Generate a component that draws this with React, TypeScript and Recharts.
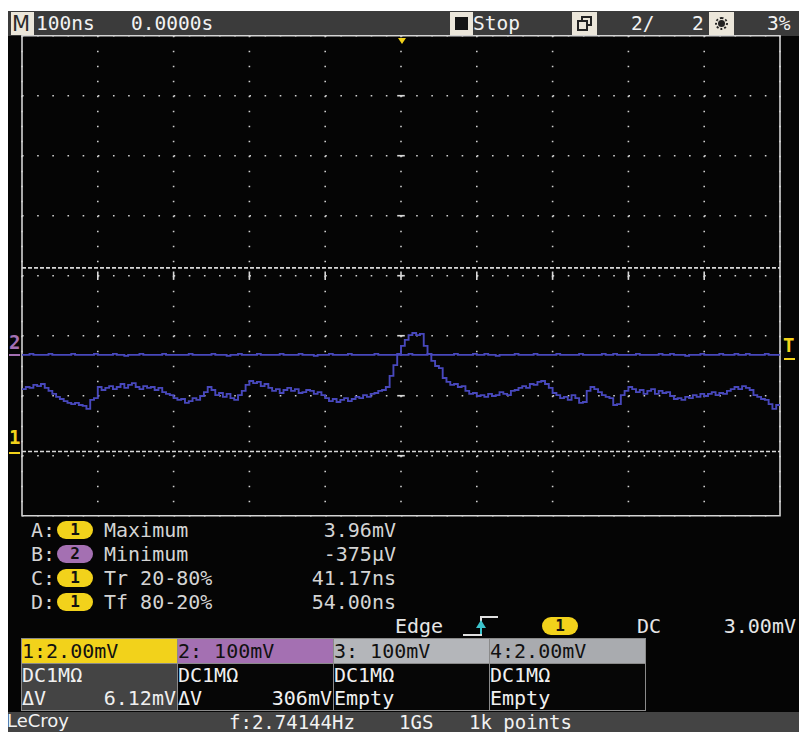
import React from 'react';
import { LineChart, Line, XAxis, YAxis, CartesianGrid, ReferenceLine, ReferenceArea } from 'recharts';

// Sample times (ns), 100 ns/div, 10 divisions
const TIME_NS = [
  -500, -495, -490, -485, -480, -475, -470, -465, -460, -455,
  -450, -445, -440, -435, -430, -425, -420, -415, -410, -405,
  -400, -395, -390, -385, -380, -375, -370, -365, -360, -355,
  -350, -345, -340, -335, -330, -325, -320, -315, -310, -305,
  -300, -295, -290, -285, -280, -275, -270, -265, -260, -255,
  -250, -245, -240, -235, -230, -225, -220, -215, -210, -205,
  -200, -195, -190, -185, -180, -175, -170, -165, -160, -155,
  -150, -145, -140, -135, -130, -125, -120, -115, -110, -105,
  -100, -95, -90, -85, -80, -75, -70, -65, -60, -55,
  -50, -45, -40, -35, -30, -25, -20, -15, -10, -5,
  0, 5, 10, 15, 20, 25, 30, 35, 40, 45,
  50, 55, 60, 65, 70, 75, 80, 85, 90, 95,
  100, 105, 110, 115, 120, 125, 130, 135, 140, 145,
  150, 155, 160, 165, 170, 175, 180, 185, 190, 195,
  200, 205, 210, 215, 220, 225, 230, 235, 240, 245,
  250, 255, 260, 265, 270, 275, 280, 285, 290, 295,
  300, 305, 310, 315, 320, 325, 330, 335, 340, 345,
  350, 355, 360, 365, 370, 375, 380, 385, 390, 395,
  400, 405, 410, 415, 420, 425, 430, 435, 440, 445,
  450, 455, 460, 465, 470, 475, 480, 485, 490, 495,
  500,
];

// Channel 1 (mV), 2.00 mV/div
const CH1_MV = [
  2.13, 2.20, 2.17, 2.27, 2.23, 2.30, 2.17, 2.07, 1.97, 1.87,
  1.80, 1.73, 1.67, 1.63, 1.67, 1.60, 1.57, 1.47, 1.77, 1.83,
  2.20, 2.10, 2.17, 2.23, 2.13, 2.20, 2.30, 2.17, 2.27, 2.33,
  2.20, 2.13, 2.23, 2.17, 2.20, 2.10, 2.17, 2.03, 1.97, 1.93,
  1.83, 1.77, 1.80, 1.67, 1.73, 1.83, 1.77, 1.90, 2.03, 2.20,
  2.10, 1.93, 2.00, 1.87, 1.97, 1.83, 1.77, 1.93, 2.07, 2.27,
  2.40, 2.33, 2.37, 2.23, 2.30, 2.17, 2.07, 2.13, 2.00, 2.10,
  2.17, 2.07, 2.13, 2.00, 2.03, 2.10, 2.07, 1.97, 2.03, 1.93,
  1.83, 1.73, 1.80, 1.70, 1.77, 1.83, 1.73, 1.80, 1.87, 1.83,
  1.93, 1.87, 1.97, 2.00, 2.07, 2.10, 2.20, 2.57, 2.93, 3.27,
  3.57, 3.77, 3.93, 4.00, 3.93, 3.97, 3.57, 3.30, 3.07, 2.90,
  2.83, 2.50, 2.37, 2.27, 2.30, 2.20, 2.23, 2.07, 1.97, 2.00,
  1.90, 1.93, 1.87, 1.97, 1.90, 1.93, 2.03, 1.97, 1.93, 2.07,
  2.10, 2.17, 2.23, 2.17, 2.30, 2.27, 2.37, 2.40, 2.30, 2.17,
  2.00, 1.93, 1.83, 1.87, 1.77, 1.93, 1.83, 1.67, 1.70, 2.07,
  2.20, 2.13, 2.03, 1.93, 1.87, 1.83, 1.60, 1.63, 1.93, 2.07,
  2.20, 2.13, 2.03, 2.10, 1.97, 2.07, 2.13, 1.97, 2.07, 2.00,
  2.03, 1.90, 1.80, 1.83, 1.77, 1.87, 1.83, 1.93, 1.87, 1.97,
  1.90, 1.97, 2.03, 1.93, 2.00, 1.97, 2.07, 2.13, 2.20, 2.13,
  2.23, 2.17, 2.10, 1.93, 1.87, 1.80, 1.77, 1.63, 1.47, 1.60,
  1.57,
];

// Channel 2 (mV), 100 mV/div
const CH2_MV = [
  0, 0, 1.7, 0, 0, 0, 0, 1.7, 0, 0,
  0, 0, 0, 1.7, 0, 0, 0, 0, 0, 1.7,
  0, 0, 0, 0, 1.7, 0, 0, -1.7, 0, 0,
  0, 1.7, 0, 0, 0, 0, 0, 1.7, 0, 0,
  0, 0, 0, 0, 1.7, 0, 0, 0, 0, 0,
  1.7, 0, 0, 0, -1.7, 0, 0, 1.7, 0, 0,
  0, 0, 1.7, 0, 0, 0, 0, 0, 1.7, 0,
  0, 0, 0, 1.7, 0, 0, 0, -1.7, 0, 0,
  0, 1.7, 0, 0, 0, 0, 1.7, 0, 0, 0,
  0, 0, 0, 1.7, 0, 0, 0, 0, 0, 1.7,
  0, 0, 1.7, 0, 0, 0, 0, 1.7, 0, 0,
  0, 0, 0, 0, 1.7, 0, 0, 0, 0, 1.7,
  0, 0, 1.7, 0, 0, -1.7, 0, 0, 0, 0,
  1.7, 0, 0, 0, 0, 1.7, 0, 0, 0, 0,
  0, 1.7, 0, 0, 0, 0, 0, 1.7, 0, 0,
  0, 0, 0, 1.7, 0, 0, 1.7, 0, 0, 0,
  0, 0, 1.7, 0, 0, 0, 0, 0, 1.7, 0,
  0, 1.7, 0, 0, 0, -1.7, 0, 0, 0, 1.7,
  0, 0, 0, 0, 1.7, 0, 0, 0, 1.7, 0,
  0, 1.7, 0, 0, 0, 0, 1.7, 0, 0, 0,
  0,
];

const X_DIV_TICKS = [-500, -400, -300, -200, -100, 0, 100, 200, 300, 400, 500];
const Y_DIV_TICKS = [-4, -3, -2, -1, 0, 1, 2, 3, 4];
const CH1_DOMAIN = [-2.09, 13.91];
const CH2_DOMAIN = [-268, 532];
const CURSOR_MV = [0.05, 6.17];

const MEASUREMENTS = [
  { slot: 'A:', ch: '1', name: 'Maximum', value: '3.96mV' },
  { slot: 'B:', ch: '2', name: 'Minimum', value: '-375µV' },
  { slot: 'C:', ch: '1', name: 'Tr 20-80%', value: '41.17ns' },
  { slot: 'D:', ch: '1', name: 'Tf 80-20%', value: '54.00ns' },
];

const CHANNELS = [
  { head: '1:2.00mV', l1: 'DC1MΩ', l2: 'ΔV', v2: '6.12mV', hb: '#f2d21b', bb: '#444444' },
  { head: '2: 100mV', l1: 'DC1MΩ', l2: 'ΔV', v2: '306mV', hb: '#a470b2', bb: '#060606' },
  { head: '3: 100mV', l1: 'DC1MΩ', l2: 'Empty', v2: '', hb: '#b4b6ba', bb: '#060606' },
  { head: '4:2.00mV', l1: 'DC1MΩ', l2: 'Empty', v2: '', hb: '#a9abaf', bb: '#060606' },
];

const MONO = '"DejaVu Sans Mono", monospace';
const YELLOW = '#f2d21b';
const PURPLE = '#a470b2';
const TRACE = '#4848bc';
const LIGHT = '#e6e6e6';

const rows = TIME_NS.map((t, i) => ({ t, ch1: CH1_MV[i], ch2: CH2_MV[i] }));

const Txt = (p: any) => (
  <div
    style={{
      position: 'absolute',
      left: p.x,
      top: p.y,
      width: p.w,
      textAlign: p.align,
      fontSize: p.s ?? 20,
      lineHeight: 1,
      color: p.c ?? LIGHT,
      fontFamily: p.f ?? MONO,
      whiteSpace: 'pre',
      fontWeight: p.b ? 'bold' : 'normal',
    }}
  >
    {p.children}
  </div>
);

const Pill = (p: any) => (
  <div
    style={{
      position: 'absolute',
      left: p.x,
      top: p.y,
      width: 36,
      height: 18,
      borderRadius: 9,
      background: p.bg,
      color: '#111',
      fontFamily: MONO,
      fontSize: 16,
      fontWeight: 'bold',
      lineHeight: '18px',
      textAlign: 'center',
    }}
  >
    {p.children}
  </div>
);

const Box = (p: any) => (
  <div
    style={{
      position: 'absolute',
      left: p.x,
      top: p.y,
      width: p.w,
      height: p.h,
      background: p.bg,
      border: p.border,
      boxSizing: 'border-box',
    }}
  >
    {p.children}
  </div>
);

export default function App() {
  const centerTicksX = X_DIV_TICKS.slice(1, -1);
  const centerTicksY = Y_DIV_TICKS.slice(1, -1);
  return (
    <div style={{ position: 'absolute', left: 0, top: 0, width: 799, height: 732, background: '#ffffff', overflow: 'hidden' }}>
      {/* screen */}
      <Box x={8} y={11} w={791} h={721} bg="#050505" />
      {/* top bar */}
      <Box x={8} y={11} w={791} h={25} bg="#3b3b3b" />
      <Box x={11} y={12} w={23} h={23} bg="#ebe6da" />
      <Txt x={12} y={14} s={21} c="#2a2a2a" f='"DejaVu Sans", sans-serif'>M</Txt>
      <Txt x={36} y={14} s={19.5} c="#f2f2f2">100ns</Txt>
      <Txt x={131} y={14} s={19.5} c="#f2f2f2">0.0000s</Txt>
      <Box x={450} y={12} w={23} h={23} bg="#ebe6da" />
      <Box x={455} y={17} w={13} h={13} bg="#151515" />
      <Txt x={473} y={14} s={19.5} c="#f2f2f2">Stop</Txt>
      <Box x={572} y={12} w={25} h={23} bg="#ebe6da" />
      <Box x={581} y={16} w={11} h={10} bg="transparent" border="2px solid #222" />
      <Box x={577} y={20} w={11} h={11} bg="#ebe6da" border="2px solid #222" />
      <Txt x={631} y={14} s={19.5} c="#f2f2f2">2/</Txt>
      <Txt x={692} y={14} s={19.5} c="#f2f2f2">2</Txt>
      <Box x={709} y={12} w={25} h={23} bg="#ebe6da" />
      <div style={{ position: 'absolute', left: 715, top: 17, width: 13, height: 13, borderRadius: 7, border: '2px dotted #222', boxSizing: 'border-box' }} />
      <div style={{ position: 'absolute', left: 718, top: 20, width: 7, height: 7, borderRadius: 4, background: '#222' }} />
      <Txt x={767} y={14} s={19.5} c="#f2f2f2">3%</Txt>

      {/* waveform chart */}
      <div style={{ position: 'absolute', left: 0, top: 0 }}>
        <LineChart width={799} height={732} data={rows} margin={{ top: 35.7, right: 19, bottom: 216.3, left: 22 }}>
          <XAxis dataKey="t" type="number" domain={[-500, 500]} ticks={X_DIV_TICKS} hide allowDataOverflow />
          <YAxis yAxisId="div" type="number" domain={[-4, 4]} ticks={Y_DIV_TICKS} hide allowDataOverflow />
          <YAxis yAxisId="ch1" type="number" domain={CH1_DOMAIN} hide allowDataOverflow />
          <YAxis yAxisId="ch2" type="number" domain={CH2_DOMAIN} hide allowDataOverflow />
          <CartesianGrid yAxisId="div" horizontal={false} stroke="#cfcfcf" strokeWidth={1.6} strokeDasharray="1.6 13.4" />
          <CartesianGrid yAxisId="div" vertical={false} stroke="#cfcfcf" strokeWidth={1.6} strokeDasharray="1.6 13.56" />
          {centerTicksX.map((t) => (
            <ReferenceLine
              key={'cx' + t}
              yAxisId="div"
              segment={[{ x: t, y: -0.07 }, { x: t, y: 0.07 }]}
              stroke="#d8d8d8"
              strokeWidth={1.6}
            />
          ))}
          {centerTicksY.map((d) => (
            <ReferenceLine
              key={'cy' + d}
              yAxisId="div"
              segment={[{ x: -5, y: d }, { x: 5, y: d }]}
              stroke="#d8d8d8"
              strokeWidth={1.6}
            />
          ))}
          {CURSOR_MV.map((v) => (
            <ReferenceLine key={'cur' + v} yAxisId="ch1" y={v} stroke="#d8d8d8" strokeWidth={1.6} strokeDasharray="4 2" />
          ))}
          <ReferenceArea yAxisId="div" x1={-500} x2={500} y1={-4} y2={4} fill="none" fillOpacity={0} stroke="#d4d4d4" strokeWidth={1.6} />
          <Line yAxisId="ch2" dataKey="ch2" type="stepAfter" stroke={TRACE} strokeWidth={1.9} dot={false} isAnimationActive={false} />
          <Line yAxisId="ch1" dataKey="ch1" type="stepAfter" stroke={TRACE} strokeWidth={1.9} dot={false} isAnimationActive={false} />
        </LineChart>
      </div>

      {/* markers */}
      <div style={{ position: 'absolute', left: 398, top: 38, width: 0, height: 0, borderLeft: '4px solid transparent', borderRight: '4px solid transparent', borderTop: '6px solid ' + YELLOW }} />
      <Txt x={9} y={333} s={19} c={PURPLE} b>2</Txt>
      <Box x={9} y={354} w={11} h={2} bg={PURPLE} />
      <Txt x={9} y={428} s={19} c={YELLOW} b>1</Txt>
      <Box x={9} y={452} w={11} h={2} bg={YELLOW} />
      <Txt x={783} y={336} s={19} c={YELLOW} b>T</Txt>
      <Box x={784} y={358} w={11} h={2} bg={YELLOW} />

      {/* measurements */}
      {MEASUREMENTS.map((m, i) => {
        const top = 520 + i * 24;
        return (
          <React.Fragment key={m.slot}>
            <Txt x={31} y={top} s={20} c="#d4d4d4">{m.slot}</Txt>
            <Pill x={57} y={top + 1} bg={m.ch === '1' ? YELLOW : PURPLE}>{m.ch}</Pill>
            <Txt x={104} y={top} s={20} c="#d4d4d4">{m.name}</Txt>
            <Txt x={236} y={top} w={160} align="right" s={20} c="#d4d4d4">{m.value}</Txt>
          </React.Fragment>
        );
      })}

      {/* trigger row */}
      <Txt x={395} y={616} s={20} c={LIGHT}>Edge</Txt>
      <Box x={463} y={634} w={18} h={2} bg="#e0e0e0" />
      <Box x={480} y={617} w={2} h={19} bg="#e0e0e0" />
      <Box x={480} y={616} w={18} h={2} bg="#e0e0e0" />
      <div style={{ position: 'absolute', left: 476, top: 620, width: 0, height: 0, borderLeft: '5px solid transparent', borderRight: '5px solid transparent', borderBottom: '8px solid #3cc4cc' }} />
      <Box x={480} y={627} w={2} h={7} bg="#3cc4cc" />
      <Pill x={542} y={617} bg={YELLOW}>1</Pill>
      <Txt x={637} y={616} s={20} c={LIGHT}>DC</Txt>
      <Txt x={676} y={616} w={120} align="right" s={20} c={LIGHT}>3.00mV</Txt>

      {/* channel boxes */}
      {CHANNELS.map((ch, i) => {
        const x = 21 + i * 156;
        return (
          <React.Fragment key={ch.head}>
            <Box x={x} y={638} w={157} h={26} bg={ch.hb} border="1px solid #8a8a8a" />
            <Box x={x} y={663} w={157} h={48} bg={ch.bb} border="1px solid #8a8a8a" />
            <Txt x={x + 1} y={641} s={20} c="#111">{ch.head}</Txt>
            <Txt x={x + 1} y={665} s={20} c="#f0f0f0">{ch.l1}</Txt>
            <Txt x={x + 1} y={688} s={20} c="#f0f0f0">{ch.l2}</Txt>
            {ch.v2 ? (
              <Txt x={x + 36} y={688} w={119} align="right" s={20} c="#f0f0f0">{ch.v2}</Txt>
            ) : null}
          </React.Fragment>
        );
      })}

      {/* bottom bar */}
      <Box x={8} y={712} w={791} h={20} bg="#444444" />
      <Txt x={7} y={712} s={18} c="#f2f2f2" f='"DejaVu Sans", sans-serif'>LeCroy</Txt>
      <Txt x={229} y={713} s={19} c="#f2f2f2">f:2.74144Hz</Txt>
      <Txt x={399} y={713} s={19} c="#f2f2f2">1GS</Txt>
      <Txt x={469} y={713} s={19} c="#f2f2f2">1k points</Txt>
    </div>
  );
}
